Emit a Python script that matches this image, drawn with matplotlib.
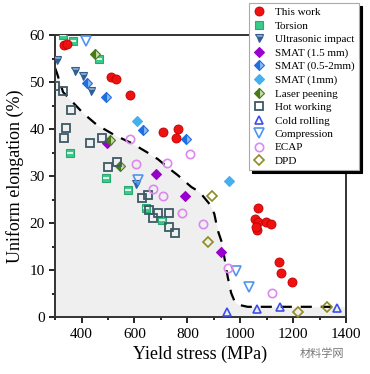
import matplotlib
matplotlib.use("Agg")
import matplotlib.pyplot as plt
from matplotlib.ticker import MultipleLocator

plt.rcParams['font.family'] = ['Liberation Serif', 'DejaVu Serif']

# boundary of the conventional-processing envelope
curve_x = [300, 307, 330, 406, 458, 526, 590, 647, 689, 734, 764, 815, 847, 885, 902,
           915, 930, 942, 953, 966, 980, 996, 1028, 1360]
curve_y = [53, 51.9, 47.9, 43.4, 40.9, 38.7, 37.0, 35.1, 33.6, 31.5, 30.2, 27.7, 26.6,
           24.0, 22.0, 18.5, 16.0, 12.1, 8.5, 5.1, 3.2, 2.6, 2.2, 2.2]

this_work_x = [335, 345, 511, 530, 583, 708, 764, 757, 1066, 1055, 1068, 1098, 1118, 1065, 1058, 1145, 1153, 1195]
this_work_y = [57.8, 58.1, 51.1, 50.6, 47.2, 39.4, 40.0, 38.1, 23.3, 20.8, 20.3, 20.3, 19.8, 18.6, 19.2, 11.7, 9.4, 7.4]

torsion_x = [330, 368, 466, 357, 492, 576, 643, 704]
torsion_y = [60.0, 58.7, 54.9, 34.9, 29.6, 27.0, 23.3, 20.7]

ultrasonic_x = [308, 375, 405, 435, 605]
ultrasonic_y = [54.7, 52.4, 51.3, 48.2, 28.3]

smat15_x = [495, 680, 793, 926]
smat15_y = [37.1, 30.4, 25.7, 13.8]

smat052_x = [420, 491, 633, 795]
smat052_y = [49.8, 46.9, 39.8, 37.8]

smat1_x = [609, 957]
smat1_y = [41.8, 28.9]

laser_x = [451, 508, 545]
laser_y = [55.9, 37.7, 32.2]

hot_x = [300, 329, 359, 341, 334, 432, 478, 535, 500, 628, 651, 655, 670, 688, 730, 730, 755]
hot_y = [49.1, 48.2, 44.0, 40.3, 38.1, 37.0, 38.1, 33.0, 32.0, 25.3, 26.0, 22.8, 21.1, 22.1, 22.1, 19.1, 17.9]

cold_x = [949, 1062, 1149, 1368]
cold_y = [1.1, 1.7, 2.1, 1.9]

compression_x = [417, 614, 983, 1032]
compression_y = [58.7, 29.1, 9.8, 6.4]

ecap_x = [583, 605, 725, 809, 670, 709, 779, 860, 953, 1119]
ecap_y = [37.9, 32.6, 32.9, 34.8, 27.2, 25.7, 22.1, 19.8, 10.4, 5.1]

dpd_x = [892, 877, 1217, 1330]
dpd_y = [25.7, 16.0, 1.1, 2.1]

fig = plt.figure(figsize=(3.70, 3.74), dpi=100)
ax = fig.add_axes([0.149, 0.152, 0.786, 0.754])

fill_x = curve_x + [1400]
fill_y = curve_y + [2.2]
ax.fill_between(fill_x, 0, fill_y, color='#efefef', zorder=0, lw=0)
ax.plot(curve_x, curve_y, ls=(0, (5, 4)), color='black', lw=1.6, zorder=1)

ms = 6
ax.plot(torsion_x, torsion_y, 's', ms=ms, color='#3cc98c', mec='#2aa870', mew=0.8, label='Torsion', zorder=3)
ax.plot(torsion_x, torsion_y, '_', ms=4, color='white', mew=1.2, zorder=3)
ax.plot(ultrasonic_x, ultrasonic_y, 'v', ms=ms, color='#2f5f95', mfc='#2f5f95', fillstyle='bottom',
        markerfacecoloralt='#8aa6c8', mec='#2f5f95', mew=0.8, label='Ultrasonic impact', zorder=3)
ax.plot(smat15_x, smat15_y, 'D', ms=5.5, color='#9a00cc', mec='#9a00cc', mew=0.8, label='SMAT (1.5 mm)', zorder=3)
ax.plot(smat052_x, smat052_y, 'D', ms=5.5, color='#1f6fe0', fillstyle='left', markerfacecoloralt='#8fb8f0',
        mec='#1f6fe0', mew=0.8, label='SMAT (0.5-2mm)', zorder=3)
ax.plot(smat1_x, smat1_y, 'D', ms=5.5, color='#45b0f0', mec='#45b0f0', mew=0.8, label='SMAT (1mm)', zorder=3)
ax.plot(laser_x, laser_y, 'D', ms=5.5, color='#4a7a18', fillstyle='left', markerfacecoloralt='#c6dcae',
        mec='#4a7a18', mew=0.8, label='Laser peening', zorder=3)
ax.plot(hot_x, hot_y, 's', ms=ms, mfc='none', mec='#3d5a66', mew=1.3, label='Hot working', zorder=3)
ax.plot(cold_x, cold_y, '^', ms=ms, mfc='none', mec='#3b4fe8', mew=1.2, label='Cold rolling', zorder=3)
ax.plot(compression_x, compression_y, 'v', ms=ms + 0.5, mfc='none', mec='#4f95f0', mew=1.2, label='Compression', zorder=3)
ax.plot(ecap_x, ecap_y, 'o', ms=ms, mfc='none', mec='#dd88ee', mew=1.2, label='ECAP', zorder=3)
ax.plot(dpd_x, dpd_y, 'D', ms=5.5, mfc='none', mec='#8f8a20', mew=1.2, label='DPD', zorder=3)
ax.plot(this_work_x, this_work_y, 'o', ms=ms + 0.5, color='#ee1111', mec='#c00000', mew=0.6, label='This work', zorder=4)

ax.set_xlim(300, 1400)
ax.set_ylim(0, 60)
ax.xaxis.set_major_locator(MultipleLocator(200))
ax.xaxis.set_minor_locator(MultipleLocator(100))
ax.yaxis.set_major_locator(MultipleLocator(10))
ax.yaxis.set_minor_locator(MultipleLocator(5))
ax.tick_params(which='both', direction='out', labelsize=11, width=1.2)
ax.tick_params(which='major', length=4)
ax.tick_params(which='minor', length=2.5)
for s in ax.spines.values():
    s.set_linewidth(1.4)
    s.set_color('#333333')

ax.set_xlabel('Yield stress (MPa)', fontsize=13)
ax.set_ylabel('Uniform elongation (%)', fontsize=13)

handles, labels = ax.get_legend_handles_labels()
order = ['This work', 'Torsion', 'Ultrasonic impact', 'SMAT (1.5 mm)', 'SMAT (0.5-2mm)', 'SMAT (1mm)',
         'Laser peening', 'Hot working', 'Cold rolling', 'Compression', 'ECAP', 'DPD']
hmap = dict(zip(labels, handles))
leg = fig.legend([hmap[k] for k in order], order, loc='upper right', bbox_to_anchor=(0.97, 0.992),
                 borderaxespad=0, fontsize=8, handlelength=1.0, handletextpad=0.9, labelspacing=0.33,
                 borderpad=0.4, frameon=True, fancybox=False,
                 shadow={'color': 'black', 'alpha': 1.0}, framealpha=1)
leg.get_frame().set_edgecolor('#aaaaaa')
leg.get_frame().set_linewidth(0.8)

fig.text(0.93, 0.045, '材料学网', fontsize=8, color='#777777', ha='right',
         family=['Noto Sans CJK SC', 'DejaVu Sans'])

fig.savefig('out.png', dpi=100)
